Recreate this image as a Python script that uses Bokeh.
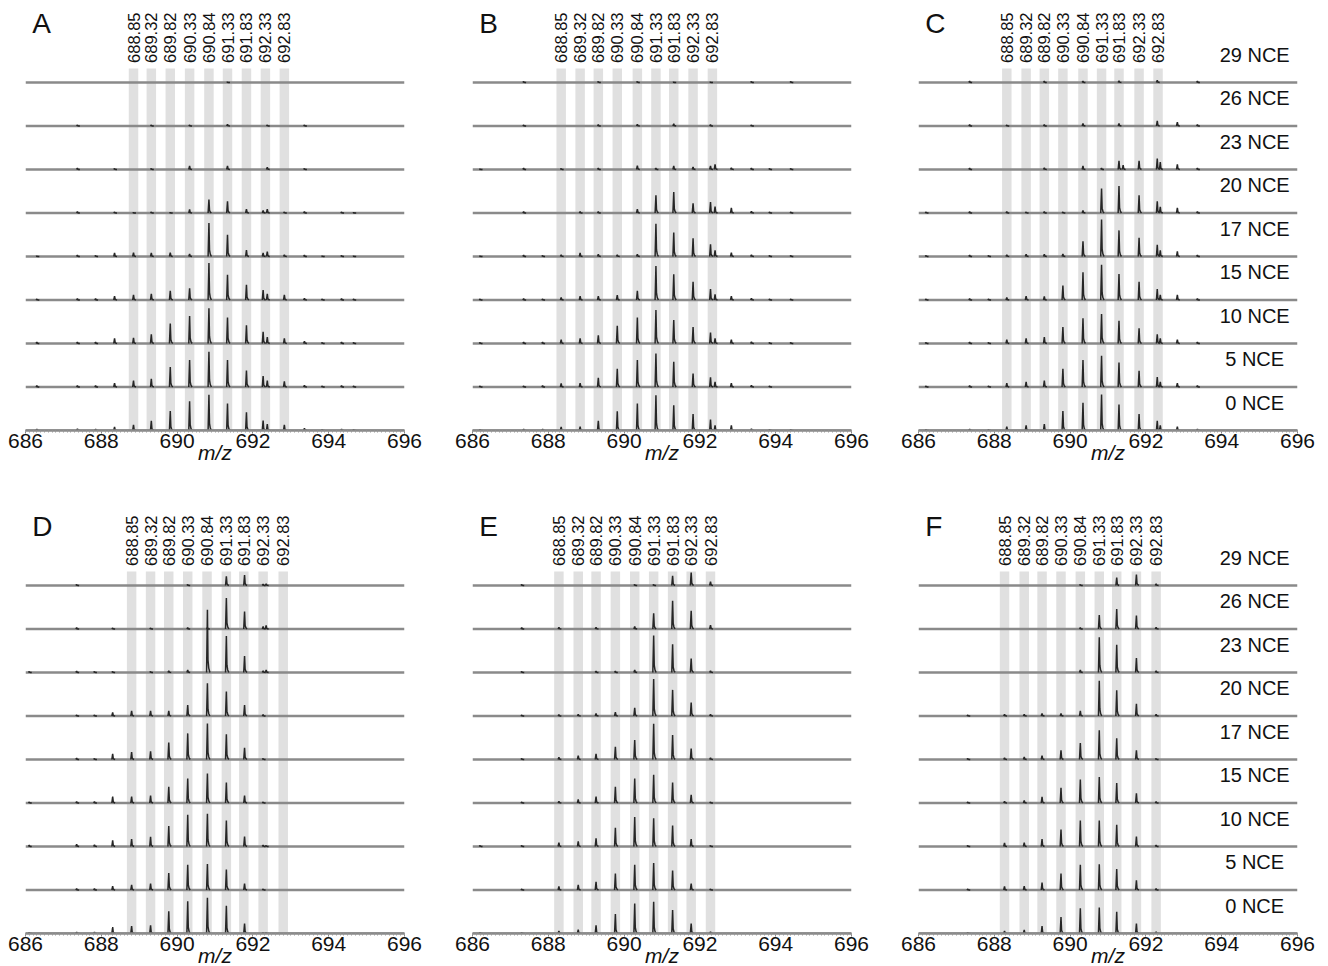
import math
from bokeh.plotting import figure
from bokeh.models import Range1d, FixedTicker
from bokeh.layouts import column, row
from bokeh.core.properties import value
from bokeh.embed import file_html
from bokeh.resources import INLINE

# ---------------- data ----------------
nce = [0, 5, 10, 15, 17, 20, 23, 26, 29]          # bottom -> top
band_labels = ["688.85", "689.32", "689.82", "690.33", "690.84",
               "691.33", "691.83", "692.33", "692.83"]
panel_letters = ["A", "B", "C", "D", "E", "F"]
major_ticks = [686, 688, 690, 692, 694, 696]

bands_A = [688.85, 689.32, 689.82, 690.33, 690.84, 691.33, 691.83, 692.33, 692.83]
bands_B = [688.34, 688.84, 689.32, 689.82, 690.35, 690.84, 691.31, 691.82, 692.33]
bands_C = [688.33, 688.84, 689.32, 689.81, 690.34, 690.83, 691.29, 691.82, 692.32]
bands_D = [688.80, 689.30, 689.78, 690.28, 690.79, 691.30, 691.76, 692.27, 692.80]
bands_E = [688.28, 688.79, 689.26, 689.77, 690.28, 690.78, 691.28, 691.77, 692.28]
bands_F = [688.27, 688.79, 689.26, 689.76, 690.27, 690.77, 691.23, 691.75, 692.27]

# peak m/z and relative heights (rows: 0,5,10,15,17,20,23,26,29 NCE)
mz_A = [686.3, 687.37, 687.85, 688.35, 688.85, 689.32, 689.82, 690.33, 690.84,
        691.33, 691.83, 692.27, 692.38, 692.83, 693.36, 693.83, 694.34, 694.66]
int_A = [
    [3, 4, 3, 8, 13, 22, 45, 67, 82, 62, 42, 23, 15, 13, 5, 2, 3, 2],
    [3, 3, 3, 9, 15, 19, 46, 62, 81, 62, 38, 25, 15, 13, 4, 2, 3, 2],
    [3, 3, 3, 12, 13, 21, 46, 63, 81, 60, 42, 27, 15, 12, 5, 2, 3, 2],
    [2, 3, 3, 9, 12, 14, 21, 27, 85, 58, 35, 23, 14, 12, 4, 2, 3, 2],
    [1, 3, 2, 8, 9, 8, 9, 6, 77, 50, 15, 8, 11, 4, 3, 1, 2, 1],
    [0, 3, 0, 2, 1, 2, 1, 8, 31, 27, 9, 6, 9, 2, 3, 0, 2, 1],
    [0, 3, 0, 2, 0, 2, 0, 8, 0, 8, 0, 0, 5, 0, 2, 0, 0, 0],
    [0, 2, 0, 0, 0, 2, 0, 2, 0, 4, 0, 0, 2, 0, 2, 0, 0, 0],
    [0, 0, 0, 0, 0, 0, 0, 0, 0, 1, 0, 0, 0, 0, 0, 0, 0, 0],
]

mz_B = [686.2, 687.35, 687.85, 688.34, 688.84, 689.32, 689.82, 690.35, 690.84,
        691.31, 691.82, 692.28, 692.40, 692.83, 693.36, 693.84, 694.4]
int_B = [
    [2, 3, 3, 8, 9, 22, 44, 62, 81, 58, 38, 25, 12, 12, 4, 2, 2],
    [2, 2, 3, 8, 9, 21, 42, 62, 77, 58, 31, 22, 12, 9, 4, 2, 0],
    [2, 3, 3, 9, 12, 19, 41, 60, 77, 54, 38, 25, 12, 9, 4, 2, 2],
    [2, 3, 2, 6, 9, 9, 11, 21, 78, 59, 42, 25, 13, 9, 4, 2, 2],
    [1, 3, 2, 4, 8, 5, 4, 5, 75, 55, 42, 28, 14, 9, 4, 2, 2],
    [0, 3, 0, 0, 3, 3, 0, 9, 41, 48, 22, 25, 15, 12, 4, 2, 2],
    [1, 3, 0, 2, 0, 3, 0, 9, 3, 8, 6, 8, 12, 4, 3, 2, 2],
    [0, 2, 0, 0, 0, 3, 0, 4, 0, 5, 0, 3, 0, 0, 2, 0, 0],
    [0, 2, 0, 0, 0, 2, 0, 2, 0, 1, 0, 1, 0, 0, 2, 0, 2],
]

mz_C = [686.2, 687.35, 687.85, 688.33, 688.84, 689.32, 689.81, 690.34, 690.83,
        691.29, 691.40, 691.82, 692.30, 692.38, 692.83, 693.36]
int_C = [
    [2, 3, 2, 9, 12, 15, 45, 64, 83, 60, 0, 38, 22, 12, 9, 3],
    [2, 3, 2, 9, 12, 15, 42, 62, 72, 56, 0, 37, 23, 12, 9, 3],
    [2, 3, 2, 9, 12, 15, 38, 58, 68, 52, 0, 35, 21, 12, 9, 3],
    [2, 3, 2, 6, 9, 8, 33, 64, 81, 60, 0, 42, 25, 12, 12, 3],
    [2, 3, 2, 4, 5, 5, 6, 35, 85, 60, 0, 43, 27, 14, 12, 3],
    [2, 3, 0, 3, 2, 3, 2, 6, 56, 62, 0, 41, 27, 14, 12, 3],
    [0, 3, 0, 0, 0, 4, 0, 8, 3, 20, 10, 20, 25, 17, 12, 3],
    [0, 3, 0, 2, 0, 3, 0, 6, 0, 6, 0, 0, 12, 0, 9, 3],
    [0, 3, 0, 0, 0, 3, 0, 3, 0, 4, 0, 0, 5, 0, 0, 3],
]

mz_D = [686.1, 687.35, 687.82, 688.30, 688.80, 689.30, 689.78, 690.28, 690.80,
        691.30, 691.78, 692.27, 692.35]
int_D = [
    [2, 3, 3, 15, 17, 19, 51, 74, 82, 64, 23, 2, 2],
    [0, 3, 3, 9, 12, 15, 39, 58, 60, 47, 15, 2, 0],
    [3, 5, 4, 14, 17, 22, 47, 73, 75, 60, 23, 3, 2],
    [2, 3, 3, 15, 15, 17, 37, 56, 68, 47, 17, 2, 0],
    [0, 3, 2, 13, 17, 19, 39, 60, 83, 58, 27, 2, 0],
    [0, 2, 2, 8, 12, 12, 12, 25, 75, 56, 25, 3, 0],
    [2, 3, 2, 2, 0, 2, 4, 6, 144, 84, 38, 4, 6],
    [0, 3, 0, 2, 0, 2, 0, 3, 3, 71, 40, 6, 8],
    [0, 2, 0, 0, 0, 0, 0, 2, 0, 21, 24, 3, 4],
]

mz_E = [686.2, 687.3, 688.28, 688.79, 689.26, 689.77, 690.28, 690.78, 691.28,
        691.77, 692.28]
int_E = [
    [2, 2, 6, 9, 19, 45, 69, 73, 54, 23, 4],
    [0, 2, 8, 12, 19, 38, 58, 62, 45, 15, 2],
    [2, 2, 9, 12, 19, 43, 68, 65, 48, 17, 2],
    [0, 2, 4, 8, 15, 37, 56, 65, 47, 19, 2],
    [0, 2, 5, 9, 13, 29, 45, 82, 56, 25, 4],
    [0, 2, 3, 4, 6, 9, 19, 85, 60, 31, 4],
    [0, 2, 0, 0, 3, 3, 6, 85, 65, 32, 4],
    [0, 3, 4, 0, 4, 0, 6, 36, 65, 42, 9],
    [0, 2, 0, 0, 0, 0, 2, 2, 22, 30, 9],
]

mz_F = [687.3, 688.27, 688.79, 689.26, 689.76, 690.27, 690.77, 691.23, 691.75,
        692.27]
int_F = [
    [2, 6, 8, 17, 38, 58, 60, 50, 23, 4],
    [2, 8, 9, 17, 38, 58, 59, 48, 22, 3],
    [2, 8, 9, 17, 39, 60, 60, 50, 23, 3],
    [2, 4, 6, 14, 35, 54, 60, 46, 22, 3],
    [2, 4, 6, 9, 21, 38, 67, 49, 21, 2],
    [2, 4, 4, 6, 6, 12, 81, 59, 28, 4],
    [0, 0, 0, 0, 0, 6, 81, 64, 33, 4],
    [0, 0, 0, 0, 0, 3, 32, 46, 31, 4],
    [0, 0, 0, 0, 0, 2, 0, 18, 25, 4],
]

# ---------------- drawing ----------------
FONT = "Liberation Sans"
X0, X1 = 686, 696
Y_TOP = 9.885
BAND_TOP = 8.32


def peak_lines(mz, heights, base):
    xs, ys = [], []
    for m, v in zip(mz, heights):
        if v <= 0:
            continue
        h = v / 100.0
        xs.append([m - 0.022, m, m + 0.015, m + 0.035, m + 0.065])
        ys.append([base, base + h, base + h * 0.2, base + h * 0.07, base])
    return xs, ys


def make_panel(letter, bands, mz, ints, right_border, top_row, show_nce):
    p = figure(frame_width=379, frame_height=430,
               x_range=Range1d(X0, X1), y_range=Range1d(0, Y_TOP),
               output_backend="svg", toolbar_location=None,
               y_axis_location=None, min_border=0,
               min_border_left=25, min_border_right=right_border,
               min_border_top=0, min_border_bottom=(73 if top_row else 30))
    p.outline_line_color = None
    p.xgrid.visible = False
    p.ygrid.visible = False
    p.background_fill_color = "white"
    p.border_fill_color = "white"

    # grey bands
    p.vbar(x=bands, width=0.25, bottom=0, top=BAND_TOP,
           fill_color="#e0e0e0", line_color=None)

    # baselines
    p.segment(x0=[X0] * len(nce), x1=[X1] * len(nce), y0=list(range(len(nce))),
              y1=list(range(len(nce))), line_color="#8a8a8a", line_width=2.5)

    # spectra
    all_xs, all_ys = [], []
    for k, row_vals in enumerate(ints):
        xs, ys = peak_lines(mz, row_vals, k)
        all_xs += xs
        all_ys += ys
    p.multi_line(xs=all_xs, ys=all_ys, line_color="#262626", line_width=1.5)

    # rotated band labels
    p.text(x=bands, y=[8.45] * len(bands), text=band_labels, angle=math.pi / 2,
           text_align="left", text_baseline="middle",
           text_font=value(FONT), text_font_size="16.5px", text_color="#111111")

    # panel letter
    p.text(x=[686.18], y=[9.36], text=[letter], text_align="left",
           text_baseline="alphabetic", text_font=value(FONT),
           text_font_size="28px", text_color="#111111")

    if show_nce:
        p.text(x=[694.87] * len(nce), y=[k + 0.64 for k in range(len(nce))],
               text=[f"{n} NCE" for n in nce], text_align="center",
               text_baseline="alphabetic", text_font=value(FONT),
               text_font_size="20px", text_color="#111111")

    ax = p.xaxis[0]
    ax.ticker = FixedTicker(ticks=major_ticks,
                            minor_ticks=[686 + 0.1 * i for i in range(101)])
    ax.axis_line_color = "#8a8a8a"
    ax.axis_line_width = 2.5
    ax.major_tick_line_color = "#777777"
    ax.minor_tick_line_color = "#999999"
    ax.major_tick_in = 0
    ax.major_tick_out = 3
    ax.minor_tick_in = 0
    ax.minor_tick_out = 2
    ax.major_label_standoff = 0
    ax.major_label_text_font = FONT
    ax.major_label_text_font_size = "21px"
    ax.major_label_text_color = "#111111"
    ax.axis_label = "m/z"
    ax.axis_label_text_font = FONT
    ax.axis_label_text_font_style = "italic"
    ax.axis_label_text_font_size = "21px"
    ax.axis_label_text_color = "#111111"
    ax.axis_label_standoff = -10
    return p


pA = make_panel("A", bands_A, mz_A, int_A, 43, True, False)
pB = make_panel("B", bands_B, mz_B, int_B, 42, True, False)
pC = make_panel("C", bands_C, mz_C, int_C, 31, True, True)
pD = make_panel("D", bands_D, mz_D, int_D, 43, False, False)
pE = make_panel("E", bands_E, mz_E, int_E, 42, False, False)
pF = make_panel("F", bands_F, mz_F, int_F, 31, False, True)

layout = column(row(pA, pB, pC), row(pD, pE, pF))

with open("out.html", "w") as f:
    f.write(file_html(layout, INLINE))
